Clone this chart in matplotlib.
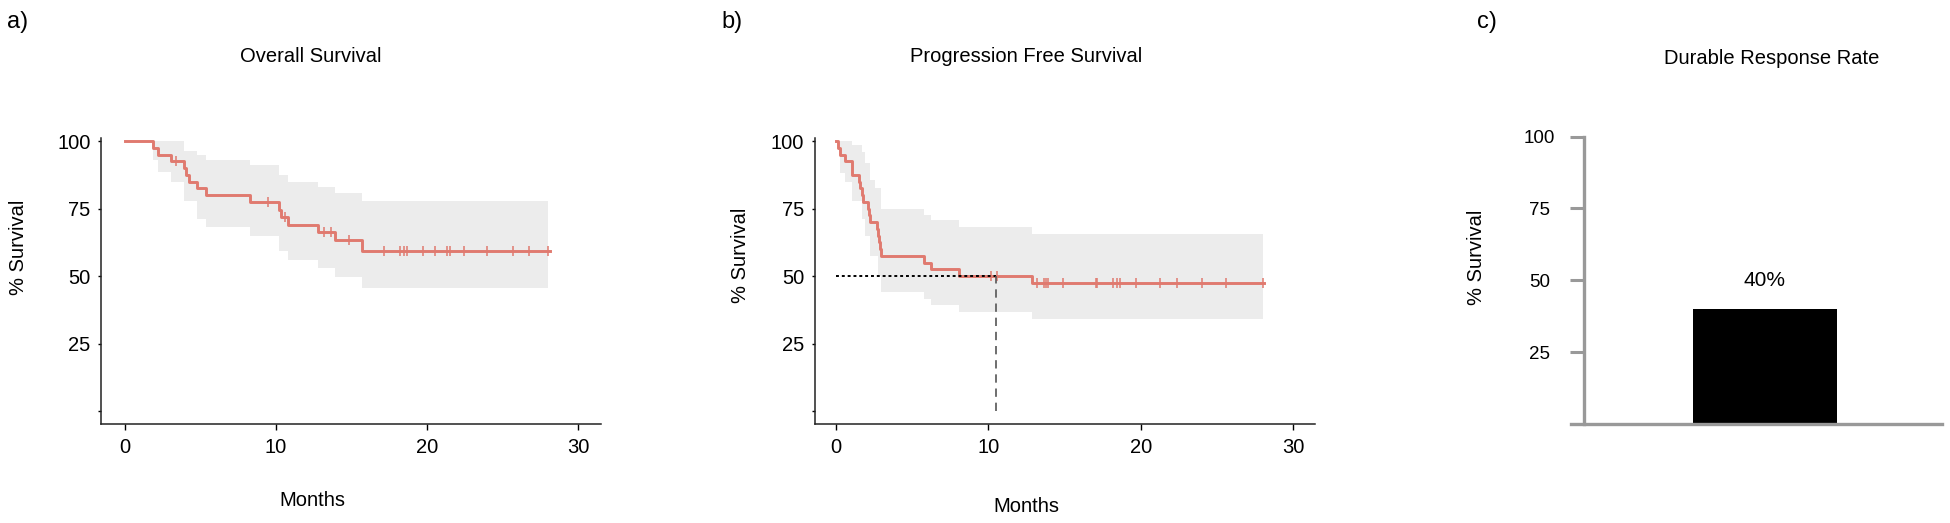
import numpy as np
import matplotlib
matplotlib.use("Agg")
from matplotlib import pyplot as plt

plt.rcParams['font.family'] = ['Liberation Sans', 'DejaVu Sans']

# ---- a) overall survival (months, % surviving) ----
os_time = [0, 1.87, 2.18, 3.09, 3.90, 4.05, 4.28, 4.78, 5.39, 8.30, 10.20, 10.33, 10.78, 12.78, 13.90, 15.67]
os_surv = [100, 97.5, 95, 92.5, 90, 87.5, 85, 82.5, 80, 77.3, 74.6, 71.8, 69.0, 66.3, 63.4, 59.4]
os_end = 28.1
os_cens = [3.37, 9.5, 10.6, 13.2, 13.65, 14.84, 17.16, 18.23, 18.48, 18.68, 19.70, 20.51,
           21.32, 21.49, 22.41, 23.97, 25.65, 26.71, 28.0]
os_hi_time = [0, 3.95, 4.78, 5.39, 8.30, 10.20, 10.78, 12.78, 13.90, 15.67]
os_hi = [100, 96.4, 94.9, 93.0, 91.2, 87.3, 85.0, 82.8, 80.6, 77.9]
os_lo_time = [0, 1.87, 2.18, 3.09, 3.95, 4.78, 5.39, 8.30, 10.20, 10.78, 12.78, 13.90, 15.67]
os_lo = [100, 92.8, 88.5, 84.8, 77.7, 71.2, 68.1, 64.9, 59.1, 55.9, 52.9, 49.8, 45.5]
os_band_end = 28.0

# ---- b) progression free survival ----
pfs_time = [0, 0.16, 0.29, 0.63, 1.09, 1.56, 1.62, 1.70, 1.82, 2.14, 2.20, 2.27, 2.71, 2.80,
            2.86, 2.92, 2.98, 5.79, 6.28, 8.10, 12.87]
pfs_surv = [100, 97.5, 95, 92.5, 87.5, 85, 82.5, 80, 77.5, 75, 72.5, 70, 67.5, 65,
            62.5, 60, 57.5, 55, 52.5, 50, 47.3]
pfs_end = 28.1
pfs_cens = [10.2, 10.6, 13.19, 13.66, 13.81, 13.94, 14.88, 17.10, 17.17, 18.19, 18.48, 18.63,
            19.68, 21.27, 22.39, 24.0, 25.59, 28.02]
pfs_hi_time = [0, 1.09, 1.72, 1.93, 2.27, 2.58, 2.98, 5.79, 6.28, 8.10, 12.87]
pfs_hi = [100, 98.4, 96, 92, 85.6, 82.5, 74.9, 72.7, 70.6, 68.1, 65.6]
pfs_lo_time = [0, 0.29, 0.63, 1.09, 1.72, 1.95, 2.27, 2.80, 2.98, 5.79, 6.28, 8.10, 12.87]
pfs_lo = [100, 88.3, 84.7, 77.8, 71, 65, 57.3, 50, 44.1, 41.6, 39.3, 36.7, 34.0]
pfs_band_end = 28.0
pfs_median = 10.5

# ---- c) durable response rate ----
drr_value = 40
drr_label = "40%"

yticks = [0, 25, 50, 75, 100]
ytick_labels = ['', '25', '50', '75', '100']
xticks = [0, 10, 20, 30]

W, H = 1950, 523
line_col = '#e07a6f'
band_col = '#ececec'


def step_at(times, vals, grid):
    times = np.asarray(times)
    vals = np.asarray(vals)
    idx = np.searchsorted(times, grid, side='right') - 1
    return vals[np.clip(idx, 0, len(vals) - 1)]


def km_panel(ax, t, s, t_end, cens, hi_t, hi, lo_t, lo, band_end):
    grid = np.unique(np.concatenate([hi_t, lo_t, [band_end]]))
    ax.fill_between(grid, step_at(lo_t, lo, grid), step_at(hi_t, hi, grid),
                    step='post', color=band_col, lw=0)
    ax.step(np.append(t, t_end), np.append(s, s[-1]), where='post',
            color=line_col, lw=2.1, zorder=4)
    cens = np.asarray(cens)
    ax.plot(cens, step_at(t, s, cens), '|', color=line_col, ms=7, mew=1.1, zorder=4)
    ax.set_ylim(-4.7, 101)
    ax.set_yticks(yticks)
    ax.set_yticklabels(ytick_labels)
    ax.set_xticks(xticks)
    for sp in ['top', 'right']:
        ax.spines[sp].set_visible(False)
    for sp in ['left', 'bottom']:
        ax.spines[sp].set_linewidth(1.1)
        ax.spines[sp].set_color('#222222')
    ax.tick_params(axis='y', length=2.5, width=1, pad=5, labelsize=14.5)
    ax.tick_params(axis='x', length=4, width=1, pad=6, labelsize=14.5)


def frac_box(left, right, top, bottom):
    return [left / W, 1 - bottom / H, (right - left) / W, (bottom - top) / H]


fig = plt.figure(figsize=(19.5, 5.23), dpi=100)

# panel a
ax1 = fig.add_axes(frac_box(101, 601, 138.3, 423.7))
km_panel(ax1, os_time, os_surv, os_end, os_cens, os_hi_time, os_hi, os_lo_time, os_lo, os_band_end)
ax1.set_xlim(-1.56, 31.5)

# panel b
ax2 = fig.add_axes(frac_box(814.6, 1314.5, 138.3, 423.7))
km_panel(ax2, pfs_time, pfs_surv, pfs_end, pfs_cens, pfs_hi_time, pfs_hi, pfs_lo_time, pfs_lo, pfs_band_end)
ax2.set_xlim(-1.38, 31.4)
ax2.plot([0, pfs_median], [50, 50], color='black', lw=1.4, linestyle=(0, (1.5, 1.5)), zorder=5)
ax2.plot([pfs_median, pfs_median], [0, 50], color='#555555', lw=1.2, linestyle=(0, (5, 3.5)), zorder=5)

# panel c
ax3 = fig.add_axes(frac_box(1571, 1942, 136.7, 423.8))
ax3.bar([0], [drr_value], width=0.8, color='black')
ax3.text(0, 50, drr_label, ha='center', va='center', fontsize=15)
ax3.set_xlim(-1.076, 0.985)
ax3.set_ylim(0, 100)
ax3.set_xticks([])
ax3.set_yticks(yticks[1:])
ax3.set_yticklabels(ytick_labels[1:])
for sp in ['top', 'right']:
    ax3.spines[sp].set_visible(False)
ax3.spines['left'].set_position(('data', -1.004))
for sp in ['left', 'bottom']:
    ax3.spines[sp].set_linewidth(2.4)
    ax3.spines[sp].set_color('#999999')
ax3.tick_params(axis='y', length=10, width=2.2, color='#999999', pad=22, labelsize=13.5)
for lab in ax3.get_yticklabels():
    lab.set_ha('center')

# text around the panels
def ftext(x, y, s, **kw):
    fig.text(x / W, 1 - y / H, s, **kw)

ftext(7, 22, 'a)', fontsize=17, ha='left', va='center')
ftext(721, 22, 'b)', fontsize=17, ha='left', va='center')
ftext(1477, 22, 'c)', fontsize=17, ha='left', va='center')

ftext(311, 56, 'Overall Survival', fontsize=14.5, ha='center', va='center')
ftext(1026, 56, 'Progression Free Survival', fontsize=14.5, ha='center', va='center')
ftext(1772, 59, 'Durable Response Rate', fontsize=14.5, ha='center', va='center')

ftext(312, 500, 'Months', fontsize=14.5, ha='center', va='center')
ftext(1026, 507, 'Months', fontsize=14.5, ha='center', va='center')

ftext(19, 247, '% Survival', fontsize=14.5, ha='center', va='center', rotation=90)
ftext(740, 255, '% Survival', fontsize=14.5, ha='center', va='center', rotation=90)
ftext(1477, 257, '% Survival', fontsize=14.5, ha='center', va='center', rotation=90)

fig.savefig('out.png', dpi=100)
